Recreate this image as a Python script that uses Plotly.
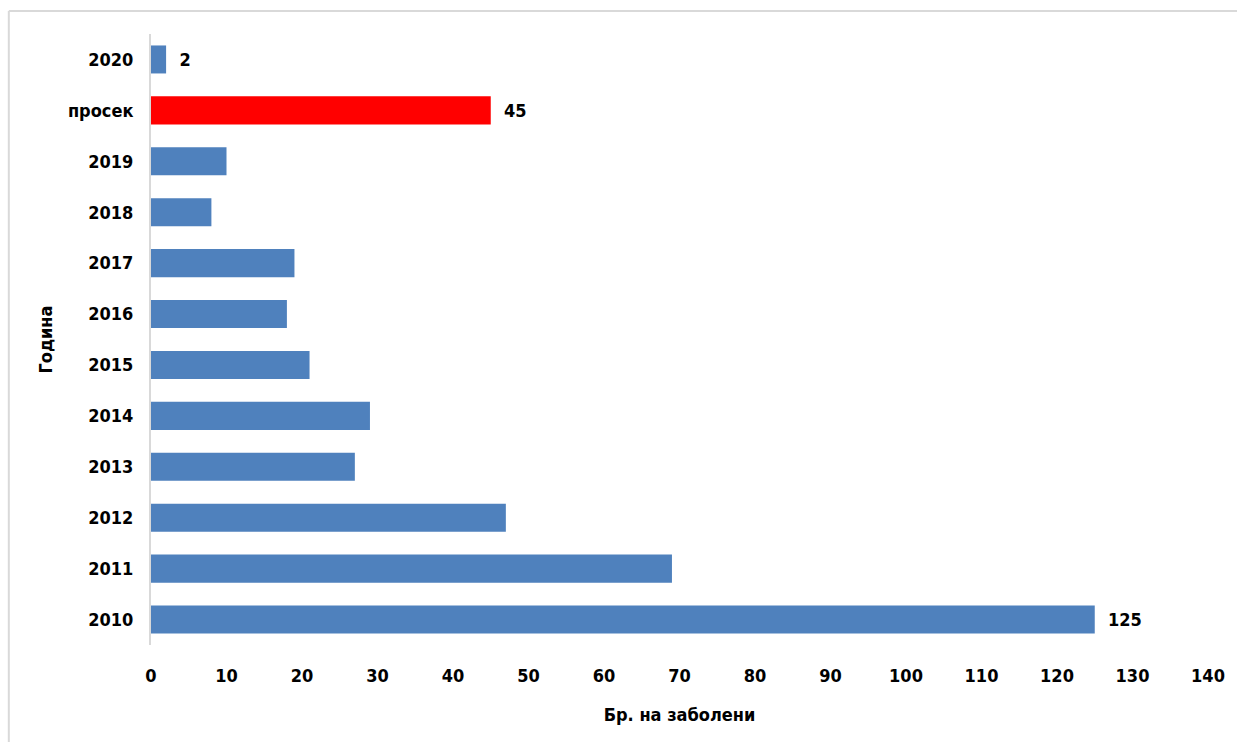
import plotly.graph_objects as go

categories = ["2010", "2011", "2012", "2013", "2014", "2015", "2016", "2017", "2018", "2019", "просек", "2020"]
values = [125, 69, 47, 27, 29, 21, 18, 19, 8, 10, 45, 2]
labeled = ["2010", "просек", "2020"]
x_ticks = list(range(0, 141, 10))

BLUE = "#4F81BD"
RED = "#FF0000"
FONT = "Liberation Sans Narrow, DejaVu Sans Condensed, Liberation Sans, Arial, sans-serif"

colors = [RED if c == "просек" else BLUE for c in categories]
texts = [str(v) if c in labeled else "" for c, v in zip(categories, values)]

W, H = 1237, 742
L, R, T, B = 151, 23, 34, 97

fig = go.Figure(go.Bar(
    y=categories, x=values, orientation="h",
    marker=dict(color=colors, line=dict(width=0)),
    width=0.55,
    text=texts, textposition="outside", cliponaxis=False,
    textfont=dict(family=FONT, size=18, color="#000000"),
))

fig.update_layout(
    width=W, height=H,
    margin=dict(l=L, r=R, t=T, b=B),
    paper_bgcolor="white", plot_bgcolor="white",
    showlegend=False,
    font=dict(family=FONT, size=18, color="#000000"),
    xaxis=dict(range=[0, 140], tickvals=x_ticks, showgrid=False, zeroline=False,
               showline=False, ticks="", ticklen=0, ticklabelstandoff=18,
               tickfont=dict(family=FONT, size=18, color="#000000"),
               title=dict(text="<b>Бр. на заболени</b>", font=dict(family=FONT, size=18), standoff=23)),
    yaxis=dict(categoryorder="array", categoryarray=categories, showgrid=False,
               zeroline=False, showline=True, linecolor="#D9D9D9", linewidth=2,
               ticks="", ticklabelstandoff=12,
               tickfont=dict(family=FONT, size=18, color="#000000"),
               title=dict(text="<b>Година</b>", font=dict(family=FONT, size=18), standoff=11)),
)

# bold tick labels
fig.update_xaxes(ticktext=[f"<b>{t}</b>" for t in x_ticks])
fig.update_yaxes(tickvals=categories, ticktext=[f"<b>{c}</b>" for c in categories])
fig.update_traces(texttemplate="\u00a0\u00a0<b>%{text}</b>")

# outer frame (left and top edges only; right/bottom fall outside the picture)
pw, ph = W - L - R, H - T - B
x0 = (8 - L) / pw
y1 = 1 + (T - 11) / ph
x1 = (W + 30 - L) / pw
y0 = -(B + 10) / ph
fig.add_shape(type="line", xref="paper", yref="paper", x0=x0, x1=x0, y0=y0, y1=y1,
              line=dict(color="#D9D9D9", width=2), layer="below")
fig.add_shape(type="line", xref="paper", yref="paper", x0=x0, x1=x1, y0=y1, y1=y1,
              line=dict(color="#D9D9D9", width=2), layer="below")

fig.write_html("out.html")
